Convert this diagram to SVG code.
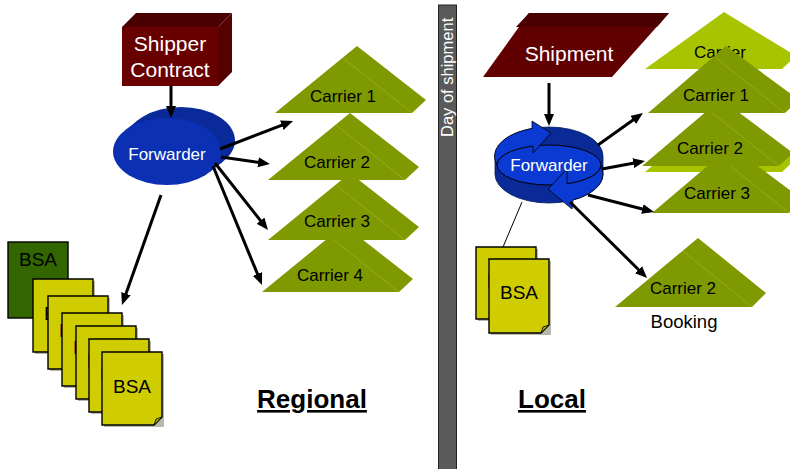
<svg xmlns="http://www.w3.org/2000/svg" width="790" height="469" viewBox="0 0 790 469">
  <defs>
    <marker id="arrow" markerUnits="userSpaceOnUse" markerWidth="13" markerHeight="10" refX="8" refY="5" orient="auto">
      <path d="M0,0 L12,5 L0,10 Z" fill="#000"/>
    </marker>
    <style>
      text { font-family: "Liberation Sans", Arial, sans-serif; }
      .carrier { fill: #7f9a00; }
      .carrier-light { fill: #a8c400; }
      .fold { stroke: #9ab41a; stroke-width: 0.8; fill: none; }
      .ctext { font-size: 17px; fill: #000; text-anchor: middle; }
      .doc { fill: #cfcc00; stroke: #000; stroke-width: 1.4; }
      .docshadow { fill: #8a8a70; opacity: 0.6; }
      .dtext { font-size: 19px; fill: #000; text-anchor: middle; }
      .wtext { fill: #fff; text-anchor: middle; }
      .conn { stroke: #000; stroke-width: 3; fill: none; marker-end: url(#arrow); }
      .title { font-size: 26px; font-weight: bold; text-anchor: middle; text-decoration: underline; }
    </style>
  </defs>

  <rect width="790" height="469" fill="#fff"/>

  <!-- divider: day of shipment -->
  <g id="divider">
    <rect x="438.5" y="5" width="18" height="470" fill="#5a5a5a" stroke="#222" stroke-width="1"/>
    <text transform="translate(453,137) rotate(-90)" font-size="16.5" fill="#fff">Day of shipment</text>
  </g>

  <!-- ===== Regional side ===== -->
  <g id="shipper-contract">
    <polygon points="122,27 136,13 232,13 218,27" fill="#4a0000"/>
    <polygon points="218,27 232,13 232,72 218,86" fill="#560000"/>
    <rect x="122" y="27" width="96" height="59" fill="#680000"/>
    <text class="wtext" x="170" y="51" font-size="21">Shipper</text>
    <text class="wtext" x="170" y="77" font-size="21">Contract</text>
  </g>

  <g id="forwarder-regional">
    <ellipse cx="181" cy="140.5" rx="54" ry="33.5" fill="#0a2a9a"/>
    <polygon points="209.4,172.3 124.6,130.7 138.6,119.7 223.4,161.3" fill="#0a2a9a"/>
    <ellipse cx="167" cy="151.5" rx="54" ry="33.5" fill="#0b30b4"/>
    <text class="wtext" x="167" y="160" font-size="17">Forwarder</text>
  </g>

  <g id="carrier-4">
    <polygon class="carrier" points="262,292 344,225 413,279 399,292"/>
    <line class="fold" x1="330" y1="237" x2="399" y2="292"/>
    <text class="ctext" x="330" y="281">Carrier 4</text>
  </g>
  <g id="carrier-3">
    <polygon class="carrier" points="268,240 350,173 419,227 405,240"/>
    <line class="fold" x1="336" y1="185" x2="405" y2="240"/>
    <text class="ctext" x="337" y="227">Carrier 3</text>
  </g>
  <g id="carrier-2">
    <polygon class="carrier" points="268,180 350,113 419,167 405,180"/>
    <line class="fold" x1="336" y1="125" x2="405" y2="180"/>
    <text class="ctext" x="337" y="168">Carrier 2</text>
  </g>
  <g id="carrier-1">
    <polygon class="carrier" points="275,113 357,46 426,100 412,113"/>
    <line class="fold" x1="343" y1="58" x2="412" y2="113"/>
    <text class="ctext" x="343" y="102">Carrier 1</text>
  </g>

  <g id="bsa-master">
    <rect x="8" y="242" width="60" height="76" fill="#336600" stroke="#000" stroke-width="1.4"/>
    <text class="dtext" x="38" y="266">BSA</text>
  </g>

  <g id="bsa-stack">
    <g id="bsa-1">
      <rect class="docshadow" x="35" y="281" width="60" height="73"/>
      <path class="doc" d="M33,279 h60 v65 l-8,8 h-52 z"/>
      <text class="dtext" x="63" y="320">BSA</text>
    </g>
    <g id="bsa-2">
      <rect class="docshadow" x="50" y="298" width="60" height="73"/>
      <path class="doc" d="M48,296 h60 v65 l-8,8 h-52 z"/>
      <text class="dtext" x="78" y="337">BSA</text>
    </g>
    <g id="bsa-3">
      <rect class="docshadow" x="64" y="315" width="60" height="73"/>
      <path class="doc" d="M62,313 h60 v65 l-8,8 h-52 z"/>
      <text class="dtext" x="92" y="354">BSA</text>
    </g>
    <g id="bsa-4">
      <rect class="docshadow" x="78" y="328" width="60" height="73"/>
      <path class="doc" d="M76,326 h60 v65 l-8,8 h-52 z"/>
      <text class="dtext" x="106" y="367">BSA</text>
    </g>
    <g id="bsa-5">
      <rect class="docshadow" x="91" y="341" width="60" height="73"/>
      <path class="doc" d="M89,339 h60 v65 l-8,8 h-52 z"/>
      <text class="dtext" x="119" y="380">BSA</text>
    </g>
    <g id="bsa-6">
      <rect class="docshadow" x="104" y="354" width="60" height="73"/>
      <path class="doc" d="M102,352 h60 v65 l-8,8 h-52 z"/>
      <path d="M154,425 l2,-6 l6,-2 z" fill="#a8a400" stroke="#000" stroke-width="0.8"/>
      <text class="dtext" x="132" y="393">BSA</text>
    </g>
  </g>

  <g id="label-regional">
    <text class="title" x="312" y="408">Regional</text>
  </g>

  <!-- ===== Local side ===== -->
  <g id="shipment">
    <polygon points="529,13 669,13 612,77 483,77" fill="#600000"/>
    <polygon points="529,13 669,13 657,27 516,27" fill="#4a0000"/>
    <text class="wtext" x="569" y="61" font-size="21">Shipment</text>
  </g>

  <g id="forwarder-local">
    <path d="M495,156 A54,29 0 0 1 603,156 L603,174 A54,29 0 0 1 495,174 Z" fill="#0a2a98" stroke="#001a60" stroke-width="0.8"/>
    <ellipse cx="549" cy="165" rx="52" ry="20" fill="#0a3ad2" stroke="#000" stroke-width="1"/>
    <path d="M495,160 A54,29 0 0 1 532,128.5 L532,121 L551,133 L533,153 L533,146 A52,20 0 0 0 497,165 Z" fill="#0a3ad2" stroke="#000" stroke-width="0.8"/>
    <path d="M601,165 A52,20 0 0 1 567,183.8 L567,169 L548,189 L572,209 L573,200 A54,29 0 0 0 603,174 Z" fill="#0a3ad2" stroke="#000" stroke-width="0.8"/>
    <text class="wtext" x="549" y="171" font-size="17">Forwarder</text>
  </g>

  <g id="carrier-top-light">
    <polygon class="carrier-light" points="645,69 724,12 796,56 782,69"/>
    <text class="ctext" x="720" y="58">Carrier</text>
  </g>
  <g id="carrier-light-lower">
    <polygon class="carrier-light" points="645,172 724,105 796,159 782,172"/>
  </g>
  <g id="carrier-local-3">
    <polygon class="carrier" points="652,213 731,146 803,200 789,213"/>
    <line class="fold" x1="720" y1="158" x2="789" y2="213"/>
    <text class="ctext" x="717" y="199">Carrier 3</text>
  </g>
  <g id="carrier-local-2">
    <polygon class="carrier" points="642,166 721,99 793,153 779,166"/>
    <line class="fold" x1="710" y1="111" x2="779" y2="166"/>
    <text class="ctext" x="710" y="154">Carrier 2</text>
  </g>
  <g id="carrier-local-1">
    <polygon class="carrier" points="648,113 726,46 799,100 785,113"/>
    <line class="fold" x1="716" y1="58" x2="785" y2="113"/>
    <text class="ctext" x="716" y="101">Carrier 1</text>
  </g>

  <g id="carrier-booking">
    <polygon class="carrier" points="615,307 698,238 766,293 752,307"/>
    <line class="fold" x1="683" y1="251" x2="752" y2="307"/>
    <text class="ctext" x="683" y="294">Carrier 2</text>
    <text x="684" y="328" font-size="18.5" text-anchor="middle" fill="#000">Booking</text>
  </g>

  <g id="bsa-local">
    <g id="bsa-local-1">
      <rect class="docshadow" x="478" y="249" width="60" height="72"/>
      <path class="doc" d="M476,247 h60 v64 l-8,8 h-52 z"/>
      <text class="dtext" x="506" y="287">BSA</text>
    </g>
    <g id="bsa-local-2">
      <rect class="docshadow" x="491" y="261" width="60" height="74"/>
      <path class="doc" d="M489,259 h60 v66 l-8,8 h-52 z"/>
      <path d="M541,333 l2,-6 l6,-2 z" fill="#a8a400" stroke="#000" stroke-width="0.8"/>
      <text class="dtext" x="519" y="299">BSA</text>
    </g>
  </g>

  <g id="label-local">
    <text class="title" x="552" y="408">Local</text>
  </g>

  <!-- connectors -->
  <g id="connectors">
    <line class="conn" stroke-width="2.5" x1="171" y1="86" x2="171" y2="114"/>
    <line class="conn" x1="220" y1="149" x2="289.3" y2="122.4"/>
    <line class="conn" x1="221" y1="157" x2="266" y2="163.4"/>
    <line class="conn" x1="215" y1="163" x2="265.5" y2="226.9"/>
    <line class="conn" x1="213" y1="166" x2="260.5" y2="281.3"/>
    <line class="conn" x1="161" y1="195" x2="123.3" y2="301.2"/>

    <line class="conn" stroke-width="2.5" x1="549" y1="83" x2="549" y2="122"/>
    <line class="conn" x1="598" y1="145" x2="639.7" y2="115.3"/>
    <line class="conn" x1="602" y1="169" x2="641.1" y2="161.7"/>
    <line class="conn" x1="588" y1="195" x2="650.1" y2="211"/>
    <line class="conn" x1="570" y1="202" x2="644.2" y2="275.2"/>
    <line x1="522" y1="202" x2="503" y2="247" stroke="#000" stroke-width="1"/>
  </g>
</svg>
